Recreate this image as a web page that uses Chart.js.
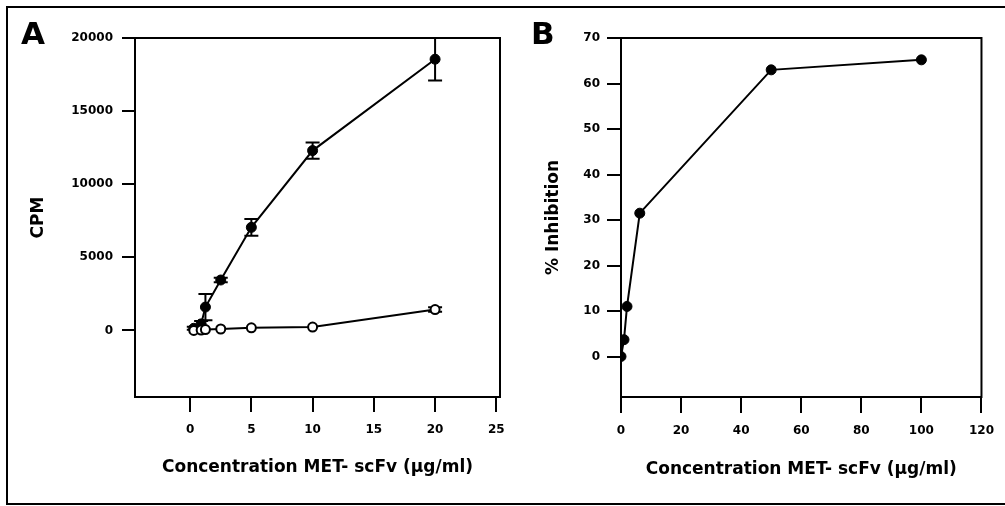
<!DOCTYPE html>
<html>
<head>
<meta charset="utf-8">
<script src="https://cdn.jsdelivr.net/npm/chart.js@4.4.1/dist/chart.umd.min.js"></script>
<style>
  body { margin: 0; background: #fff; }
  #wrap { position: relative; width: 1005px; height: 506px; overflow: hidden; background: #fff; }
  canvas { position: absolute; top: 0; }
  #frame { position: absolute; left: 6px; top: 6px; width: 1010px; height: 495px;
           border-top: 2px solid #000; border-left: 2px solid #000; border-bottom: 2px solid #000; }
  .letter { position: absolute; font: bold 31px/31px "DejaVu Sans"; color: #000; }
</style>
</head>
<body>
<div id="wrap">
  <div id="frame"></div>
  <canvas id="chartA" width="520" height="506" style="left:0"></canvas>
  <canvas id="chartB" width="485" height="506" style="left:520px"></canvas>
  <div class="letter" style="left:21px; top:18px">A</div>
  <div class="letter" style="left:531px; top:18px">B</div>
</div>
<script>
// Panel A: proliferation (CPM) vs concentration
const concA = [0.3, 0.9, 1.25, 2.5, 5, 10, 20];
const cpmFilled = [150, 450, 1600, 3450, 7050, 12300, 18550];
const errFilled = [100, 200, 900, 150, 570, 550, 1450];
const cpmOpen = [0, 30, 60, 100, 180, 230, 1430];
const errOpen = [0, 0, 0, 0, 0, 0, 150];
const ticksAx = [0, 5, 10, 15, 20, 25];
const ticksAy = [0, 5000, 10000, 15000, 20000];

// Panel B: % inhibition vs concentration
const concB = [0, 1, 2, 6.25, 50, 100];
const inhibB = [0, 3.7, 11, 31.5, 63, 65.2];
const ticksBx = [0, 20, 40, 60, 80, 100, 120];
const ticksBy = [0, 10, 20, 30, 40, 50, 60, 70];

const FONT = 'DejaVu Sans';
const titleText = 'Concentration MET- scFv (\u00b5g/ml)';

// frame around plot area + error bars
const boxAndErrors = {
  id: 'boxAndErrors',
  beforeDatasetsDraw(chart) {
    const ctx = chart.ctx, a = chart.chartArea;
    const xs = chart.scales.x, ys = chart.scales.y;
    ctx.save();
    ctx.strokeStyle = '#000';
    ctx.lineWidth = 2;
    ctx.strokeRect(a.left, a.top, a.right - a.left, a.bottom - a.top);
    chart.data.datasets.forEach(ds => {
      if (!ds.err) return;
      ds.data.forEach((p, i) => {
        const e = ds.err[i];
        if (!e) return;
        const x = xs.getPixelForValue(p.x);
        const y1 = ys.getPixelForValue(Math.min(p.y + e, ys.max));
        const y2 = ys.getPixelForValue(p.y - e);
        ctx.beginPath();
        ctx.moveTo(x, y1); ctx.lineTo(x, y2);
        ctx.moveTo(x - 7, y1); ctx.lineTo(x + 7, y1);
        ctx.moveTo(x - 7, y2); ctx.lineTo(x + 7, y2);
        ctx.stroke();
      });
    });
    ctx.restore();
  }
};

function pts(xs, ys) {
  return xs.map((x, i) => ({ x: x, y: ys[i] }));
}

function makeScale(opts) {
  return {
    type: 'linear',
    min: opts.min,
    max: opts.max,
    afterBuildTicks: s => { s.ticks = opts.ticks.map(v => ({ value: v })); },
    afterFit: s => {
      if (opts.width) s.width = opts.width;
      if (opts.height) s.height = opts.height;
    },
    border: { display: false },
    grid: { drawOnChartArea: false, drawTicks: true, tickLength: opts.tickLen, color: '#000', lineWidth: 2 },
    ticks: {
      padding: opts.pad,
      color: '#000',
      font: { family: FONT, weight: 'bold', size: 12 },
      callback: v => String(v)
    },
    title: {
      display: true,
      text: opts.title,
      color: '#000',
      font: { family: FONT, weight: 'bold', size: 17 },
      padding: opts.titlePad
    }
  };
}

const common = {
  responsive: false,
  animation: false,
  devicePixelRatio: 1,
  plugins: { legend: { display: false }, tooltip: { enabled: false } }
};

new Chart(document.getElementById('chartA'), {
  type: 'scatter',
  data: {
    datasets: [
      {
        data: pts(concA, cpmOpen), err: errOpen, showLine: true,
        borderColor: '#000', borderWidth: 2,
        pointRadius: 4.5, pointBorderWidth: 2, pointBackgroundColor: '#fff', pointBorderColor: '#000'
      },
      {
        data: pts(concA, cpmFilled), err: errFilled, showLine: true,
        borderColor: '#000', borderWidth: 2,
        pointRadius: 5, pointBorderWidth: 1, pointBackgroundColor: '#000', pointBorderColor: '#000'
      }
    ]
  },
  options: Object.assign({}, common, {
    layout: { padding: { left: 0, top: 38, right: 20, bottom: 0 } },
    scales: {
      x: makeScale({ min: -4.5, max: 25.3, ticks: ticksAx, height: 109, tickLen: 15, pad: 11,
                     title: titleText, titlePad: { top: 0, bottom: 28 } }),
      y: makeScale({ min: -4550, max: 20000, ticks: ticksAy, width: 135, tickLen: 13, pad: 9,
                     title: 'CPM', titlePad: { top: 28, bottom: 0 } })
    }
  }),
  plugins: [boxAndErrors]
});

new Chart(document.getElementById('chartB'), {
  type: 'scatter',
  data: {
    datasets: [
      {
        data: pts(concB, inhibB), showLine: true,
        borderColor: '#000', borderWidth: 2,
        pointRadius: 5, pointBorderWidth: 1, pointBackgroundColor: '#000', pointBorderColor: '#000'
      }
    ]
  },
  options: Object.assign({}, common, {
    layout: { padding: { left: 0, top: 38, right: 23, bottom: 0 } },
    scales: {
      x: makeScale({ min: 0, max: 120, ticks: ticksBx, height: 109, tickLen: 16, pad: 11,
                     title: titleText, titlePad: { top: 0, bottom: 26 } }),
      y: makeScale({ min: -8.9, max: 70, ticks: ticksBy, width: 101, tickLen: 14, pad: 7,
                     title: '% Inhibition', titlePad: { top: 23, bottom: 0 } })
    }
  }),
  plugins: [boxAndErrors]
});
</script>
</body>
</html>
